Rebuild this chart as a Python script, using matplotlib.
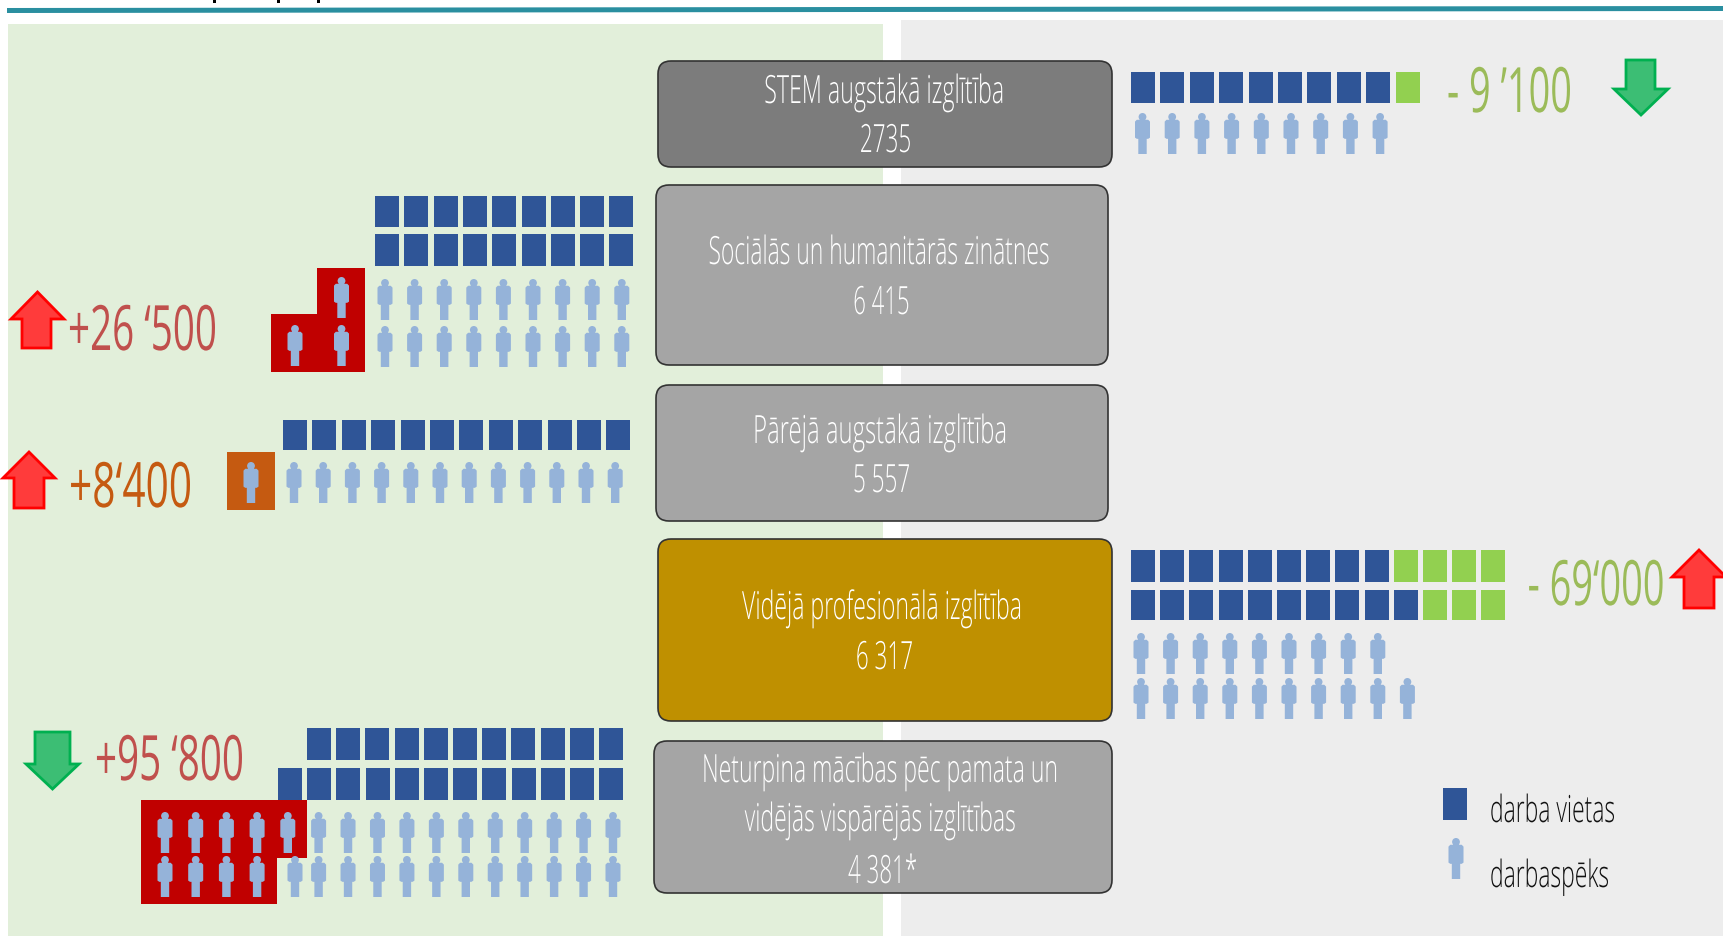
import matplotlib
matplotlib.use("Agg")
import matplotlib.pyplot as plt
from matplotlib.patches import Rectangle, Polygon, FancyBboxPatch, PathPatch
from matplotlib.path import Path
from matplotlib.patheffects import AbstractPathEffect
from matplotlib.textpath import TextPath
from matplotlib.font_manager import FontProperties
from matplotlib.transforms import Affine2D

# ---------- data ----------
categories = [
    ["STEM augstākā izglītība"],
    ["Sociālās un humanitārās zinātnes"],
    ["Pārējā augstākā izglītība"],
    ["Vidējā profesionālā izglītība"],
    ["Neturpina mācības pēc pamata un", "vidējās vispārējās izglītības"],
]
cat_values = ["2735", "6 415", "5 557", "6 317", "4 381*"]
delta_labels = ["- 9 ’100", "+26 ‘500", "+8‘400", "- 69‘000", "+95 ‘800"]
# job icons per row: blue, then surplus green
jobs_blue = [[9], [9, 9], [12], [9, 10], [11, 12]]
jobs_green = [[1], [0, 0], [0], [4, 3], [0, 0]]
# workforce icons per row: normal and highlighted shortage
persons = [[9], [9, 9], [12], [9, 10], [11, 12]]
persons_short = [[0], [1, 2], [1], [0, 0], [5, 4]]
legend_labels = ["darba vietas", "darbaspēks"]

# ---------- style ----------
BLUE = "#2F5597"
GREEN = "#92D050"
PERSON = "#95B3D9"
DARKRED = "#C00000"
ORANGE = "#C55A11"
REDTXT = "#C0504D"
LIME = "#9BBB59"
FONT = "Open Sans"

fig = plt.figure(figsize=(17.23, 9.36), dpi=100)
ax = fig.add_axes([0, 0, 1, 1])
ax.set_xlim(0, 1723)
ax.set_ylim(936, 0)
ax.axis("off")


class Squeeze(AbstractPathEffect):
    def __init__(self, sx, ha):
        super().__init__()
        self.sx, self.ha = sx, ha

    def draw_path(self, renderer, gc, tpath, affine, rgbFace=None):
        t = Affine2D().scale(self.sx, 1)
        if self.ha == "center":
            w = tpath.get_extents().x1
            t = t.translate((1 - self.sx) * w / 2, 0)
        renderer.draw_path(gc, tpath, t + affine, rgbFace)


def label(x, base, s, size, width, color, ha="left", weight="normal", z=5):
    fp = FontProperties(family=FONT, weight=weight, size=size)
    w = TextPath((0, 0), s, prop=fp, size=size).get_extents().x1 * 100 / 72
    sx = width / w
    t = ax.text(x, base, s, fontproperties=fp, color=color, ha=ha, va="baseline", zorder=z)
    t.set_path_effects([Squeeze(sx, ha)])
    return t


head = Path.circle((0.5, 0.095), 0.095)
body_pts = [(0.12, 0.165), (0.88, 0.165), (1.0, 0.21), (1.0, 0.6), (0.88, 0.63),
            (0.78, 0.63), (0.78, 1.0), (0.22, 1.0), (0.22, 0.63), (0.12, 0.63), (0.0, 0.6), (0.0, 0.21)]
# x is in fractions of the width, y of the height; the head is corrected for aspect
P_W, P_H = 15.0, 41.0
head_v = [[0.5 + (vx - 0.5) * (P_H / P_W), vy] for vx, vy in head.vertices]
head_path = Path(head_v, head.codes)
body_path = Path(body_pts + [body_pts[0]], [Path.MOVETO] + [Path.LINETO] * (len(body_pts) - 1) + [Path.CLOSEPOLY])
person_path = Path.make_compound_path(head_path, body_path)


def person(cx, top):
    tr = Affine2D().scale(P_W, P_H).translate(cx - P_W / 2, top) + ax.transData
    ax.add_patch(PathPatch(person_path, facecolor=PERSON, edgecolor="none", transform=tr, zorder=4))


def squares(x0, top, n, pitch, color, w=24, h=31):
    for i in range(n):
        ax.add_patch(Rectangle((x0 + i * pitch, top), w, h, facecolor=color, edgecolor="none", zorder=3))


def people(x0, top, n, pitch):
    for i in range(n):
        person(x0 + i * pitch, top)


def arrow(xl, xr, sl, sr, y_tip, y_base, y_end, fc, ec):
    xm = (xl + xr) / 2
    s = 1 if y_end > y_tip else -1
    pts = [(xm, y_tip + 3 * s), (xr - 3, y_base), (sr, y_base), (sr, y_end), (sl, y_end), (sl, y_base), (xl + 3, y_base)]
    ax.add_patch(Polygon(pts, closed=True, facecolor=fc, edgecolor=ec, lw=2.0, zorder=5, joinstyle="miter"))


def box(x0, y0, x1, y1, fc, ec="#333333"):
    ax.add_patch(FancyBboxPatch((x0 + 13, y0 + 13), x1 - x0 - 26, y1 - y0 - 26,
                                boxstyle="round,pad=13,rounding_size=13", facecolor=fc, edgecolor=ec, lw=1.2, zorder=3))


# ---------- background ----------
ax.add_patch(Rectangle((8, 24), 875, 912, facecolor="#E2EFDA", edgecolor="none", zorder=1))
ax.add_patch(Rectangle((901, 20), 822, 916, facecolor="#EDEDED", edgecolor="none", zorder=1))
ax.add_patch(Polygon([(7, 8), (1723, 6), (1723, 11), (7, 13)], closed=True, facecolor="#2A8FA0", edgecolor="none", zorder=2))
# descenders of the cropped title line above the rule
for tick_x in (213, 277, 317):
    ax.add_patch(Rectangle((tick_x, 0), 3, 3, facecolor="black", edgecolor="none", zorder=2))

# ---------- centre boxes ----------
box_rects = [(658, 61, 1112, 167), (656, 185, 1108, 365), (656, 385, 1108, 521), (658, 539, 1112, 721), (654, 741, 1112, 893)]
box_cols = ["#7C7C7C", "#A5A5A5", "#A5A5A5", "#BF9000", "#A5A5A5"]
text_cx = [885, 880, 881, 883, 881]
value_cx = [886, 882, 882, 885, 883]
text_base = [[103, 152], [264, 314], [443, 492], [619, 669], [782, 831, 883]]
text_w = [[238, 50], [340, 55], [252, 56], [278, 56], [354, 270, 68]]
for i, r in enumerate(box_rects):
    box(*r, box_cols[i])
    lines = categories[i] + [cat_values[i]]
    for j, (ln, b, w) in enumerate(zip(lines, text_base[i], text_w[i])):
        cx = value_cx[i] if j == len(lines) - 1 else text_cx[i]
        label(cx, b, ln, 28, w, "white", ha="center", weight="light")

# ---------- STEM (right) ----------
squares(1131, 72, jobs_blue[0][0], 29.4, BLUE)
squares(1131 + 9 * 29.4, 72, jobs_green[0][0], 29.4, GREEN)
people(1142.5, 113, persons[0][0], 29.7)
label(1447, 112, delta_labels[0], 45, 123, LIME)
arrow(1611, 1671, 1626, 1655, 118, 89, 60, "#3CBE74", "#00B050")

# ---------- Sociālās (left) ----------
ax.add_patch(Polygon([(271, 314), (317, 314), (317, 268), (365, 268), (365, 372), (271, 372)], closed=True,
                     facecolor=DARKRED, edgecolor="none", zorder=2))
squares(375, 196, jobs_blue[1][0], 29.3, BLUE)
squares(375, 234, jobs_blue[1][1], 29.3, BLUE, h=32)
people(385, 279, persons[1][0], 29.6)
people(385, 326, persons[1][1], 29.6)
people(341.5, 277, persons_short[1][0], 46)
people(295, 325, persons_short[1][1], 46.5)
label(68, 350, delta_labels[1], 45, 147, REDTXT)
arrow(8, 67, 22, 51, 289, 319, 348, "#FF3B3B", "#FF0000")

# ---------- Pārējā (left) ----------
ax.add_patch(Rectangle((227, 452), 48, 58, facecolor=ORANGE, edgecolor="none", zorder=2))
squares(283, 420, jobs_blue[2][0], 29.4, BLUE, h=30)
people(294, 462, persons[2][0], 29.2)
people(251, 462, persons_short[2][0], 29)
label(69, 507, delta_labels[2], 45, 121, ORANGE)
arrow(0, 58, 14, 44, 449, 478, 508, "#FF3B3B", "#FF0000")

# ---------- Vidējā (right) ----------
squares(1131, 550, jobs_blue[3][0], 29.2, BLUE, h=32)
squares(1131 + 9 * 29.2, 550, jobs_green[3][0], 29.2, GREEN, h=32)
squares(1131, 590, jobs_blue[3][1], 29.2, BLUE, h=30)
squares(1131 + 10 * 29.2, 590, jobs_green[3][1], 29.2, GREEN, h=30)
people(1141, 633, persons[3][0], 29.6)
people(1141, 678, persons[3][1], 29.6)
label(1596.5, 605, delta_labels[3], 45, 135, LIME, ha="center")
arrow(1669, 1729, 1684, 1714, 547, 577, 608, "#FF3B3B", "#FF0000")

# ---------- Neturpina (left) ----------
ax.add_patch(Polygon([(141, 800), (307, 800), (307, 858), (277, 858), (277, 904), (141, 904)], closed=True,
                     facecolor=DARKRED, edgecolor="none", zorder=2))
squares(307, 728, jobs_blue[4][0], 29.2, BLUE, h=32)
squares(278, 768, jobs_blue[4][1], 29.2, BLUE, h=32)
people(318.6, 812, persons[4][0], 29.44)
people(295, 856, 1, 29.44)
people(318.6, 856, persons[4][1] - 1, 29.44)
people(165, 812, persons_short[4][0], 30.7)
people(165, 856, persons_short[4][1], 30.7)
label(95, 780, delta_labels[4], 45, 147, REDTXT)
arrow(23, 82, 35, 70, 792, 764, 732, "#3CBE74", "#00B050")

# ---------- legend ----------
squares(1443, 788, 1, 0, BLUE, h=32)
person(1456, 838)
label(1490, 822, legend_labels[0], 27, 124, "#111111", weight="light")
label(1490, 887, legend_labels[1], 27, 118, "#111111", weight="light")

fig.savefig("out.png", dpi=100)
